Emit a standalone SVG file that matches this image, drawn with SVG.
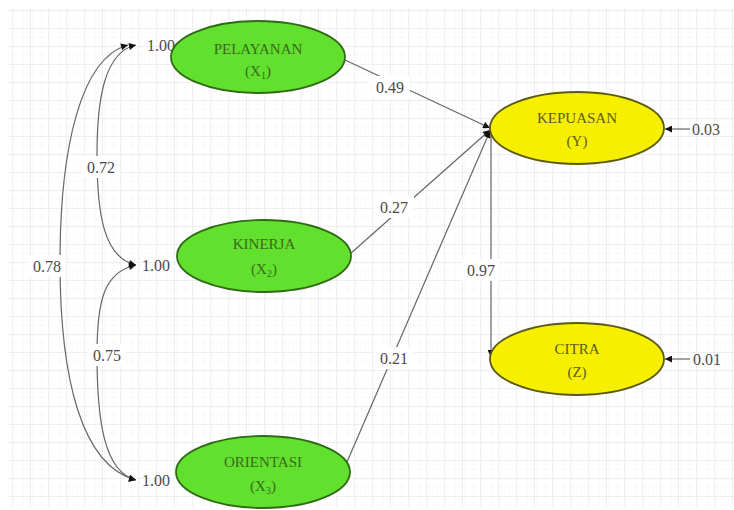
<svg xmlns="http://www.w3.org/2000/svg" width="734" height="510" viewBox="0 0 734 510">
<defs>
<pattern id="fine" x="12" y="10" width="9" height="9" patternUnits="userSpaceOnUse">
<path d="M9 0V9M0 9H9" fill="none" stroke="#f4f4f4" stroke-width="1"/>
</pattern>
<pattern id="grid" x="12" y="10" width="18" height="18" patternUnits="userSpaceOnUse">
<rect width="18" height="18" fill="url(#fine)"/>
<path d="M0 0V18M0 0H18" fill="none" stroke="#e4e4e4" stroke-width="1.2"/>
</pattern>
<marker id="ah" viewBox="0 0 10 10" refX="10" refY="5" markerWidth="8" markerHeight="7" markerUnits="userSpaceOnUse" orient="auto-start-reverse">
<path d="M0 0L10 5L0 10Z" fill="#111"/>
</marker>
</defs>
<style>
.bg{fill:url(#grid)}
.g{fill:#62e02e;stroke:#2f6a14;stroke-width:1.8}
.y{fill:#f6f000;stroke:#5c5a10;stroke-width:1.8}
.tg{font-family:"Liberation Serif",serif;font-size:15px;fill:#3a6a1c;text-anchor:middle}
.ty{font-family:"Liberation Serif",serif;font-size:15px;fill:#5e5c18;text-anchor:middle}
.c{fill:none;stroke:#666;stroke-width:1.2}
.lb{fill:#fff}
.n{font-family:"Liberation Serif",serif;font-size:16px;fill:#4a4a4a;text-anchor:middle}
</style>
<rect width="734" height="510" fill="#fff"/>
<rect x="8" y="8" width="726" height="500" class="bg"/>

<g id="connectors">
<path class="c" d="M345 60L490 128" marker-end="url(#ah)"/>
<path class="c" d="M350 254L490 130" marker-end="url(#ah)"/>
<path class="c" d="M347 462L490 131" marker-end="url(#ah)"/>
<path class="c" d="M491 130V357" marker-end="url(#ah)"/>
<path class="c" d="M690 129H665" marker-end="url(#ah)"/>
<path class="c" d="M690 359H665" marker-end="url(#ah)"/>
<path class="c" d="M136 265C104 272 97 300 97 355C97 420 104 472 136 480" marker-start="url(#ah)" marker-end="url(#ah)"/>
<path class="c" d="M136 45C104 52 97 100 97 155C97 215 104 258 136 265" marker-start="url(#ah)" marker-end="url(#ah)"/>
<path class="c" d="M128 45C80 58 60 150 60 262C60 380 82 466 136 480" marker-start="url(#ah)" marker-end="url(#ah)"/>
<rect class="lb" x="370" y="76" width="40" height="22"/>
<text class="n" x="390" y="93">0.49</text>
<rect class="lb" x="374" y="196" width="40" height="22"/>
<text class="n" x="394" y="213">0.27</text>
<rect class="lb" x="374" y="347" width="40" height="22"/>
<text class="n" x="394" y="364">0.21</text>
<rect class="lb" x="462" y="259" width="38" height="22"/>
<text class="n" x="481" y="276">0.97</text>
<rect class="lb" x="82" y="156" width="38" height="22"/>
<text class="n" x="101" y="173">0.72</text>
<rect class="lb" x="88" y="344" width="38" height="22"/>
<text class="n" x="107" y="361">0.75</text>
<rect class="lb" x="28" y="255" width="38" height="22"/>
<text class="n" x="47" y="272">0.78</text>
<text class="n" x="161" y="51">1.00</text>
<text class="n" x="156" y="271">1.00</text>
<text class="n" x="156" y="486">1.00</text>
<text class="n" x="706" y="135">0.03</text>
<text class="n" x="707" y="365">0.01</text>
</g>

<g id="pelayanan">
<ellipse class="g" cx="258" cy="57" rx="87" ry="36"/>
<text class="tg" x="258" y="54">PELAYANAN</text>
<text class="tg" x="258" y="76">(X<tspan font-size="10" dy="3">1</tspan><tspan dy="-3">)</tspan></text>
</g>
<g id="kinerja">
<ellipse class="g" cx="264" cy="256" rx="87" ry="36"/>
<text class="tg" x="264" y="249">KINERJA</text>
<text class="tg" x="264" y="274">(X<tspan font-size="10" dy="3">2</tspan><tspan dy="-3">)</tspan></text>
</g>
<g id="orientasi">
<ellipse class="g" cx="263" cy="472" rx="87" ry="36"/>
<text class="tg" x="263" y="467">ORIENTASI</text>
<text class="tg" x="263" y="491">(X<tspan font-size="10" dy="3">3</tspan><tspan dy="-3">)</tspan></text>
</g>
<g id="kepuasan">
<ellipse class="y" cx="577" cy="128" rx="87" ry="36"/>
<text class="ty" x="577" y="123">KEPUASAN</text>
<text class="ty" x="577" y="146">(Y)</text>
</g>
<g id="citra">
<ellipse class="y" cx="577" cy="359" rx="87" ry="36"/>
<text class="ty" x="577" y="354">CITRA</text>
<text class="ty" x="577" y="377">(Z)</text>
</g>
</svg>
